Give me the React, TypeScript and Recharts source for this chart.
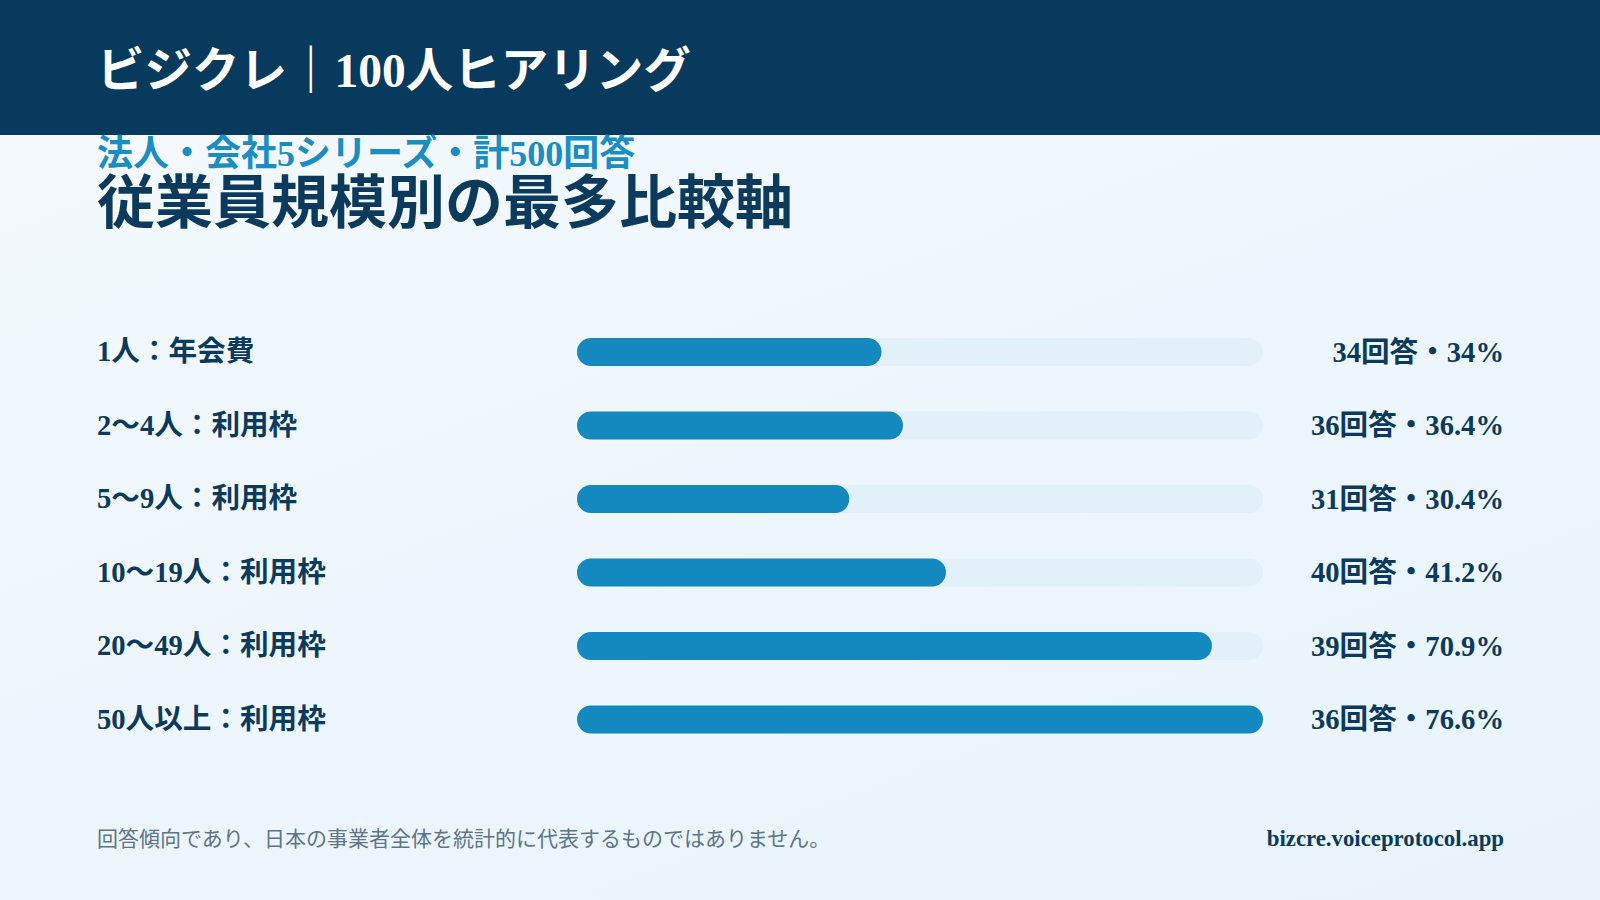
import { BarChart, Bar, XAxis, YAxis, LabelList } from 'recharts';

const categories = ['1人：年会費', '2〜4人：利用枠', '5〜9人：利用枠', '10〜19人：利用枠', '20〜49人：利用枠', '50人以上：利用枠'];
const answers = [34, 36, 31, 40, 39, 36];
const percents = [34, 36.4, 30.4, 41.2, 70.9, 76.6];

const NAVY = '#0b3a5c';
const BLUE = '#1489c0';
const TRACK = '#e2f1f9';
const FONT = '"Liberation Serif", "Noto Sans CJK JP", serif';

const data = categories.map((name, i) => ({
    name,
    value: percents[i],
    label: `${answers[i]}回答・${percents[i]}%`,
}));

const CategoryTick = ({ y, payload }: any) => (
    <text x={97} y={y} textAnchor="start" dominantBaseline="central" fill={NAVY} fontSize={28.6} fontWeight={700} fontFamily={FONT}>
        {payload.value}
    </text>
);

const ValueLabel = ({ y, height, index }: any) => (
    <text x={1504} y={y + height / 2} textAnchor="end" dominantBaseline="central" fill={NAVY} fontSize={28.6} fontWeight={700} fontFamily={FONT}>
        {data[index].label}
    </text>
);

const App = () => {
    return (
        <div style={{ position: 'fixed', left: 0, top: 0, width: 1600, height: 900, overflow: 'hidden', fontFamily: FONT, background: 'linear-gradient(160deg, #f5fafd 0%, #edf6fc 55%, #e8f3fb 100%)' }}>
            <div style={{ position: 'absolute', left: 0, top: 0, width: 1600, height: 135, background: '#073a5c' }} />
            <div style={{ position: 'absolute', left: 97, top: 45, fontSize: 47.5, lineHeight: '52px', fontWeight: 700, color: '#ffffff', whiteSpace: 'nowrap' }}>
                ビジクレ｜100人ヒアリング
            </div>
            <div style={{ position: 'absolute', left: 97, top: 135, fontSize: 36, lineHeight: '38px', fontWeight: 700, color: '#1a8dc2', whiteSpace: 'nowrap' }}>
                法人・会社5シリーズ・計500回答
            </div>
            <div style={{ position: 'absolute', left: 97, top: 172, fontSize: 58, lineHeight: '64px', fontWeight: 700, color: NAVY, whiteSpace: 'nowrap' }}>
                従業員規模別の最多比較軸
            </div>
            <div style={{ position: 'absolute', left: 0, top: 315 }}>
                <BarChart width={1600} height={441} data={data} layout="vertical" margin={{ top: 0, right: 337, bottom: 0, left: 0 }}>
                    <XAxis type="number" hide domain={[0, Math.max(...percents)]} allowDataOverflow />
                    <YAxis type="category" dataKey="name" width={577} axisLine={false} tickLine={false} tick={<CategoryTick />} />
                    <Bar dataKey="value" fill={BLUE} barSize={28} radius={14} background={{ fill: TRACK, radius: 14 }} isAnimationActive={false}>
                        <LabelList dataKey="label" content={<ValueLabel />} />
                    </Bar>
                </BarChart>
            </div>
            <div style={{ position: 'absolute', left: 97, top: 827, fontSize: 21, lineHeight: '24px', color: '#5d7489', whiteSpace: 'nowrap' }}>
                回答傾向であり、日本の事業者全体を統計的に代表するものではありません。
            </div>
            <div style={{ position: 'absolute', right: 96, top: 826, fontSize: 22.8, lineHeight: '26px', fontWeight: 700, color: NAVY, whiteSpace: 'nowrap' }}>
                bizcre.voiceprotocol.app
            </div>
        </div>
    );
};

export default App;
